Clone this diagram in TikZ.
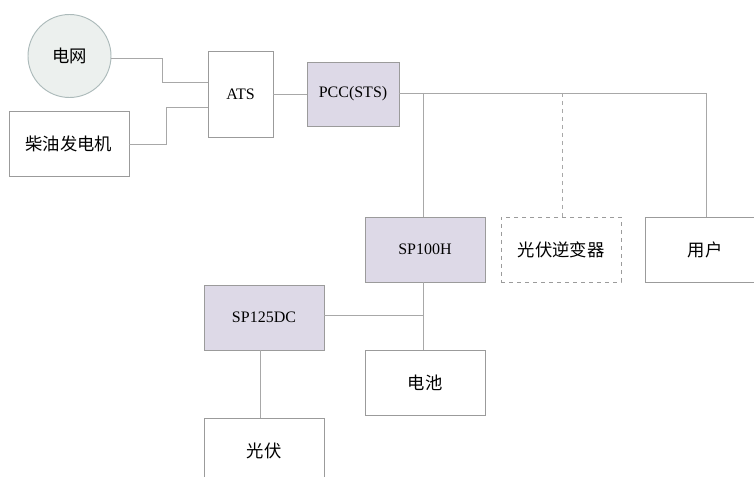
\documentclass[tikz,border=0pt]{standalone}
\usepackage{fontspec}
\setmainfont{Liberation Serif}
\newfontfamily\cjk{Noto Sans CJK SC}
\def\px{0.75pt}
\definecolor{linegray}{RGB}{168,168,168}
\definecolor{boxgray}{RGB}{155,155,155}
\definecolor{lav}{RGB}{221,217,231}
\definecolor{gridfill}{RGB}{236,240,238}
\definecolor{gridline}{RGB}{172,186,186}
\begin{document}
\begin{tikzpicture}[x=0.75pt,y=-0.75pt,
  blk/.style={draw=boxgray,line width=0.7pt,rectangle,minimum width=120*\px,minimum height=65*\px,inner sep=0pt,font=\fontsize{12}{14}\selectfont},
  cjkt/.style={font=\cjk\fontsize{13}{15}\selectfont},
  lav/.style={fill=lav},
  conn/.style={draw=linegray,line width=0.7pt}]
\useasboundingbox (0,0) rectangle (754,477);
\clip (0,0) rectangle (754,477);
\node[circle,draw=gridline,fill=gridfill,line width=0.7pt,minimum size=83*\px,inner sep=0pt,cjkt] (grid) at (69.5,56) {电网};
\node[blk,cjkt] (diesel) at (69,143.5) {柴油发电机};
\node[blk,minimum width=65*\px,minimum height=86*\px] (ats) at (240.5,94) {ATS};
\node[blk,lav,minimum width=92*\px,minimum height=64*\px] (pcc) at (353,94) {PCC(STS)};
\node[blk,lav] (sp100) at (425,249.5) {SP100H};
\node[blk,cjkt,dashed] (inv) at (561,249.5) {光伏逆变器};
\node[blk,cjkt] (user) at (705,249.5) {用户};
\node[blk,lav] (sp125) at (264,317.5) {SP125DC};
\node[blk,cjkt] (bat) at (425,382.5) {电池};
\node[blk,cjkt] (pv) at (264,450.5) {光伏};
\coordinate (busR) at (706,93);
\coordinate (tapA) at (423,93);
\coordinate (tapB) at (562,93);
\coordinate (dcj) at (423,315);
% left inputs
\draw[conn] (grid.east |- 0,58) -- (162,58) -- (162,82) -- (ats.west |- 0,82);
\draw[conn] (diesel.east |- 0,144) -- (166,144) -- (166,107) -- (ats.west |- 0,107);
\draw[conn] (ats.east) -- (pcc.west);
% AC bus
\draw[conn] (pcc.east |- busR) -- (busR);
\draw[conn] (tapA) -- (tapA |- sp100.north);
\draw[conn,dashed] (tapB) -- (tapB |- inv.north);
\draw[conn] (busR) -- (busR |- user.north);
% DC side
\draw[conn] (tapA |- sp100.south) -- (tapA |- bat.north);
\draw[conn] (sp125.east |- dcj) -- (dcj);
\draw[conn] ([xshift=-4*\px]sp125.south) -- ([xshift=-4*\px]pv.north);
\end{tikzpicture}
\end{document}
